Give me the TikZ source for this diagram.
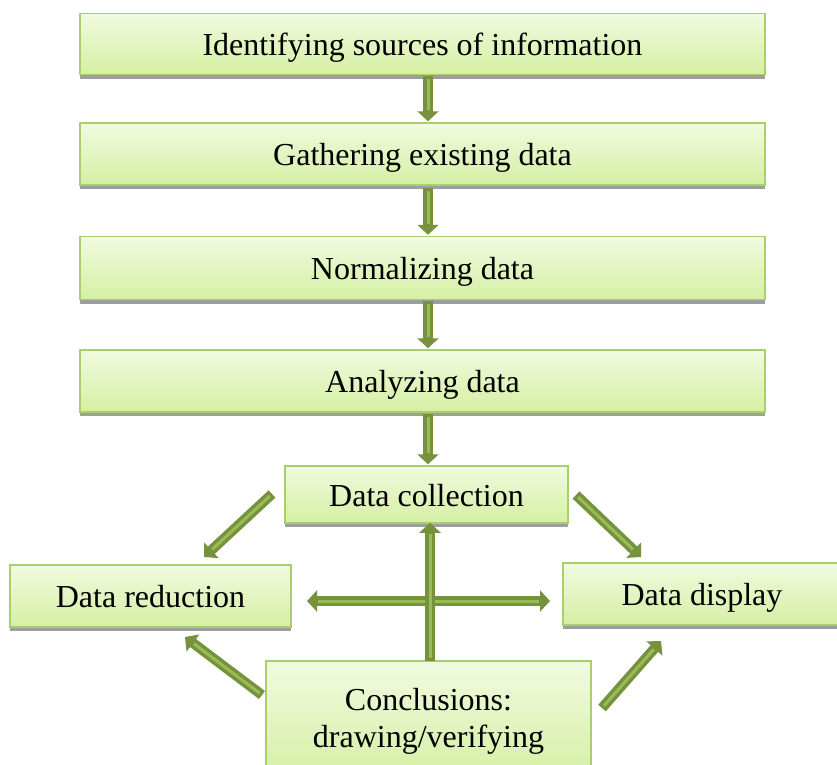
\documentclass[tikz,border=0pt]{standalone}
\usepackage{fontspec}
\setmainfont{Liberation Serif}
\usetikzlibrary{arrows.meta,shadows}
\definecolor{arrdark}{HTML}{76923C}
\definecolor{arrlight}{HTML}{9BBB59}
\definecolor{boxtop}{HTML}{F1FADF}
\definecolor{boxbot}{HTML}{D5EFA3}
\definecolor{boxline}{HTML}{A9CF6A}
\tikzset{
  box/.style={draw=boxline, line width=1.5pt, top color=boxtop, bottom color=boxbot,
    inner sep=0pt, font=\fontsize{32}{37}\selectfont, align=center,
    drop shadow={shadow xshift=0pt, shadow yshift=-4pt, fill=black!38, opacity=1}},
  onebox/.style={box, text height=28pt, text depth=5pt},
  bigarr/.style={-{Triangle[length=10pt,width=21pt]}, line width=10pt, draw=arrdark,
    postaction={draw=arrlight, line width=3pt, -, shorten >=11pt, shorten <=3pt}},
  dblarr/.style={{Triangle[length=10pt,width=21pt]}-{Triangle[length=10pt,width=21pt]}, line width=10pt, draw=arrdark,
    postaction={draw=arrlight, line width=3pt, -, shorten >=11pt, shorten <=11pt}},
}
\begin{document}
\begin{tikzpicture}[x=1pt,y=-1pt]
\useasboundingbox (0,0) rectangle (837,764);
\node[onebox, minimum width=685pt, minimum height=61pt] (b1) at (422.5,44) {Identifying sources of information};
\node[onebox, minimum width=685pt, minimum height=62pt] (b2) at (422.5,154) {Gathering existing data};
\node[onebox, minimum width=685pt, minimum height=63pt] (b3) at (422.5,268) {Normalizing data};
\node[onebox, minimum width=685pt, minimum height=62pt] (b4) at (422.5,381) {Analyzing data};
\node[onebox, minimum width=283pt, minimum height=57pt] (dc) at (426.5,494.5) {Data collection};
\node[onebox, minimum width=281pt, minimum height=62pt] (dr) at (150.5,596) {Data reduction};
\node[onebox, minimum width=278pt, minimum height=62pt] (dd) at (702,594) {Data display};
\node[box, minimum width=325pt, minimum height=120pt] (cc) at (428.5,721) {Conclusions:\\drawing/verifying};
% connector end points
\coordinate (l1s) at (272,494);
\coordinate (l1e) at (204,557);
\coordinate (r1s) at (576,495);
\coordinate (r1e) at (641,557);
\coordinate (l2s) at (262,695);
\coordinate (l2e) at (185,637);
\coordinate (r2s) at (602,708);
\coordinate (r2e) at (661,641);
\coordinate (hl) at (307,601);
\coordinate (hr) at (550,601);
\draw[bigarr] ([xshift=5.5pt,yshift=-1pt]b1.south) -- ([xshift=5.5pt,yshift=1pt]b2.north);
\draw[bigarr] ([xshift=5.5pt,yshift=-2pt]b2.south) -- ([xshift=5.5pt,yshift=1pt]b3.north);
\draw[bigarr] ([xshift=5.5pt,yshift=-1pt]b3.south) -- ([xshift=5.5pt,yshift=1pt]b4.north);
\draw[bigarr] ([xshift=5.5pt,yshift=-1pt]b4.south) -- ([xshift=1.5pt,yshift=1pt]dc.north);
\draw[bigarr] (l1s) -- (l1e);
\draw[bigarr] (r1s) -- (r1e);
\draw[dblarr] (hl) -- (hr);
\draw[bigarr] ([xshift=1.5pt,yshift=-1pt]cc.north) -- ([xshift=3.5pt,yshift=1pt]dc.south);
\draw[bigarr] (l2s) -- (l2e);
\draw[bigarr] (r2s) -- (r2e);
\end{tikzpicture}
\end{document}
